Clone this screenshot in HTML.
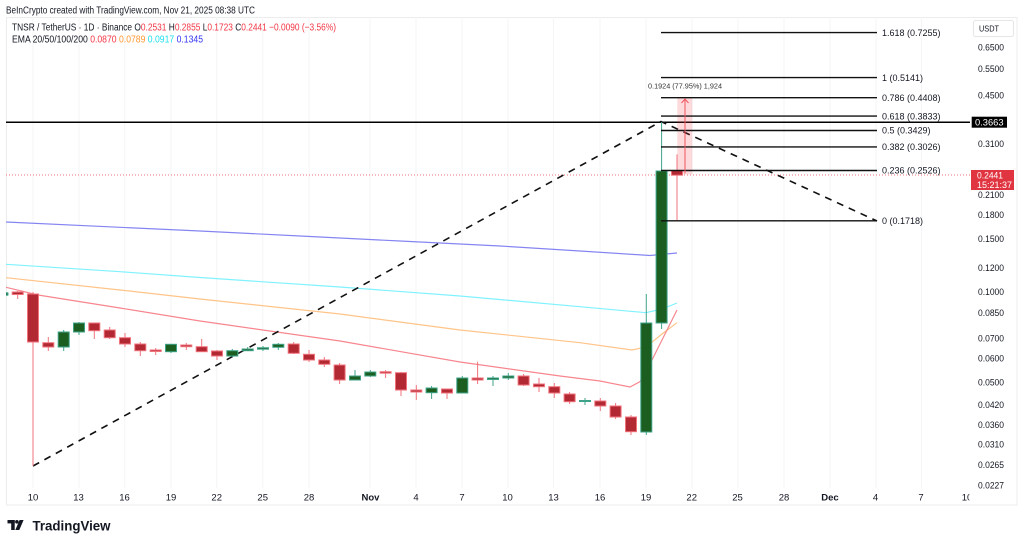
<!DOCTYPE html>
<html><head><meta charset="utf-8">
<style>
html,body{margin:0;padding:0;background:#fff;}
svg{display:block;font-family:"Liberation Sans",sans-serif;}
</style></head>
<body>
<svg width="1024" height="545" viewBox="0 0 1024 545" xmlns="http://www.w3.org/2000/svg">
<defs>
<clipPath id="plot"><rect x="6" y="17" width="964" height="488"/></clipPath>
</defs>
<rect x="0" y="0" width="1024" height="545" fill="#fff"/>
<!-- frame -->
<rect x="6.5" y="17.5" width="1010.5" height="487.5" fill="none" stroke="#ececec" stroke-width="1"/>

<!-- vertical grid -->
<g stroke="#f5f5f7" stroke-width="1">
<line x1="33" y1="17" x2="33" y2="488"/><line x1="79" y1="17" x2="79" y2="488"/><line x1="124.7" y1="17" x2="124.7" y2="488"/>
<line x1="171" y1="17" x2="171" y2="488"/><line x1="216.7" y1="17" x2="216.7" y2="488"/><line x1="262.7" y1="17" x2="262.7" y2="488"/>
<line x1="309" y1="17" x2="309" y2="488"/><line x1="370" y1="17" x2="370" y2="488"/><line x1="416" y1="17" x2="416" y2="488"/>
<line x1="462" y1="17" x2="462" y2="488"/><line x1="508" y1="17" x2="508" y2="488"/><line x1="553.5" y1="17" x2="553.5" y2="488"/>
<line x1="600" y1="17" x2="600" y2="488"/><line x1="646" y1="17" x2="646" y2="488"/><line x1="692" y1="17" x2="692" y2="488"/>
<line x1="738" y1="17" x2="738" y2="488"/><line x1="784" y1="17" x2="784" y2="488"/><line x1="830" y1="17" x2="830" y2="488"/>
<line x1="876" y1="17" x2="876" y2="488"/><line x1="921.5" y1="17" x2="921.5" y2="488"/>
</g>

<!-- header -->
<text x="6" y="13.5" font-size="10" fill="#131722" textLength="249" lengthAdjust="spacingAndGlyphs">BeInCrypto created with TradingView.com, Nov 21, 2025 08:38 UTC</text>
<text x="12" y="30.5" font-size="10" fill="#131722" textLength="324" lengthAdjust="spacingAndGlyphs">TNSR / TetherUS · 1D · Binance  <tspan>O</tspan><tspan fill="#f23645">0.2531</tspan>  <tspan>H</tspan><tspan fill="#f23645">0.2855</tspan>  <tspan>L</tspan><tspan fill="#f23645">0.1723</tspan>  <tspan>C</tspan><tspan fill="#f23645">0.2441  −0.0090 (−3.56%)</tspan></text>
<text x="12" y="42.5" font-size="10" fill="#131722" textLength="191" lengthAdjust="spacingAndGlyphs">EMA 20/50/100/200  <tspan fill="#f23645">0.0870</tspan>  <tspan fill="#ff9830">0.0789</tspan>  <tspan fill="#1fe0ef">0.0917</tspan>  <tspan fill="#3535f5">0.1345</tspan></text>

<g clip-path="url(#plot)">
<!-- EMAs -->
<polyline fill="none" stroke="#8585f2" stroke-width="1.2" points="6,222 120,227.3 200,231 300,236 400,241 500,246 580,251 650,255.5 677,253"/>
<polyline fill="none" stroke="#80f2ff" stroke-width="1.2" points="6,264.3 120,271.7 200,277.5 340,287 460,296 580,306.7 646,312.7 662,309 677,303"/>
<polyline fill="none" stroke="#ffc488" stroke-width="1.2" points="6,277.7 120,290 200,299 340,314 460,330 580,342.7 632,350 646,347 662,334 677,322.7"/>
<polyline fill="none" stroke="#f7868e" stroke-width="1.2" points="6,287.3 38,295 120,308 200,321 340,341 460,362 560,376 600,381 630,387 640,381.7 652,360 667,330 677,310"/>

<!-- horizontal line 0.3663 -->
<line x1="6" y1="122.3" x2="972" y2="122.3" stroke="#000" stroke-width="1.5"/>
<!-- price dotted line -->
<line x1="6" y1="175" x2="970" y2="175" stroke="#f0707a" stroke-width="1" stroke-dasharray="1,2"/>

<!-- dashed fib path -->
<polyline fill="none" stroke="#111" stroke-width="1.6" stroke-dasharray="7,6" points="33,466 661,121.5 877,221"/>

<!-- measurement -->
<rect x="677.3" y="97.7" width="15" height="76.6" fill="#f23645" fill-opacity="0.18"/>

<!-- wicks -->
<g stroke-width="1">
<g stroke="#3fa38a">
<line x1="7" y1="292" x2="7" y2="296"/>
<line x1="63.7" y1="330" x2="63.7" y2="351"/>
<line x1="79" y1="322" x2="79" y2="335"/>
<line x1="171" y1="344" x2="171" y2="353"/>
<line x1="232.3" y1="349" x2="232.3" y2="357"/>
<line x1="247.7" y1="347" x2="247.7" y2="351"/>
<line x1="263" y1="346" x2="263" y2="351"/>
<line x1="278.3" y1="343" x2="278.3" y2="350"/>
<line x1="355" y1="370" x2="355" y2="380"/>
<line x1="370.3" y1="370" x2="370.3" y2="377"/>
<line x1="431.6" y1="386" x2="431.6" y2="399"/>
<line x1="462.3" y1="376" x2="462.3" y2="393"/>
<line x1="493" y1="376" x2="493" y2="386"/>
<line x1="508.3" y1="373" x2="508.3" y2="380"/>
<line x1="585" y1="398" x2="585" y2="405"/>
<line x1="646.3" y1="294" x2="646.3" y2="435"/>
<line x1="661.6" y1="122" x2="661.6" y2="329"/>
</g>
<g stroke="#f0737c">
<line x1="17.7" y1="291" x2="17.7" y2="299"/>
<line x1="33" y1="292" x2="33" y2="466"/>
<line x1="48.3" y1="337" x2="48.3" y2="351"/>
<line x1="94.3" y1="323" x2="94.3" y2="339"/>
<line x1="109.7" y1="327" x2="109.7" y2="339"/>
<line x1="125" y1="333" x2="125" y2="347"/>
<line x1="140.3" y1="342" x2="140.3" y2="356"/>
<line x1="155.7" y1="348" x2="155.7" y2="355"/>
<line x1="186.3" y1="343" x2="186.3" y2="350"/>
<line x1="201.7" y1="339" x2="201.7" y2="352"/>
<line x1="217" y1="350" x2="217" y2="360"/>
<line x1="293.7" y1="342" x2="293.7" y2="354"/>
<line x1="309" y1="350" x2="309" y2="362"/>
<line x1="324.3" y1="357" x2="324.3" y2="367"/>
<line x1="339.6" y1="363" x2="339.6" y2="384"/>
<line x1="385.6" y1="370" x2="385.6" y2="378"/>
<line x1="401" y1="372" x2="401" y2="396"/>
<line x1="416.3" y1="385" x2="416.3" y2="400"/>
<line x1="447" y1="389" x2="447" y2="399"/>
<line x1="477.6" y1="361.7" x2="477.6" y2="384"/>
<line x1="523.6" y1="374" x2="523.6" y2="386"/>
<line x1="539" y1="378" x2="539" y2="392"/>
<line x1="554.3" y1="383" x2="554.3" y2="398"/>
<line x1="569.6" y1="392" x2="569.6" y2="404"/>
<line x1="600.3" y1="398" x2="600.3" y2="411"/>
<line x1="615.6" y1="403" x2="615.6" y2="419"/>
<line x1="631" y1="415" x2="631" y2="435"/>
<line x1="677" y1="154.4" x2="677" y2="220.4"/>
</g>
</g>

<!-- bodies -->
<g fill="#1b5e20" stroke="#3fa38a" stroke-width="1">
<rect x="4" y="293" width="4" height="2"/>
<rect x="58.2" y="332" width="11" height="15"/>
<rect x="73.5" y="323" width="11" height="9"/>
<rect x="165.5" y="344.3" width="11" height="7.4"/>
<rect x="226.8" y="350.7" width="11" height="5.3"/>
<rect x="242.2" y="349" width="11" height="1.7"/>
<rect x="257.5" y="347.7" width="11" height="1.5"/>
<rect x="272.8" y="344.3" width="11" height="3"/>
<rect x="349.5" y="376" width="11" height="4"/>
<rect x="364.8" y="372" width="11" height="4"/>
<rect x="426.1" y="388" width="11" height="4.7"/>
<rect x="456.8" y="378" width="11" height="15"/>
<rect x="487.5" y="378" width="11" height="1.5"/>
<rect x="502.8" y="376" width="11" height="2"/>
<rect x="579.5" y="400.5" width="11" height="1"/>
<rect x="640.8" y="323" width="11" height="109"/>
<rect x="656.1" y="171" width="11" height="152"/>
</g>
<g fill="#b22833" stroke="#f0737c" stroke-width="1">
<rect x="12.2" y="292" width="11" height="2.5"/>
<rect x="27.5" y="294" width="11" height="48"/>
<rect x="42.8" y="342.7" width="11" height="4.3"/>
<rect x="88.8" y="323" width="11" height="7.7"/>
<rect x="104.2" y="330" width="11" height="7.7"/>
<rect x="119.5" y="337.7" width="11" height="6.3"/>
<rect x="134.8" y="344" width="11" height="6.7"/>
<rect x="150.2" y="350" width="11" height="1.5"/>
<rect x="180.8" y="345" width="11" height="1.7"/>
<rect x="196.2" y="346.7" width="11" height="5"/>
<rect x="211.5" y="351" width="11" height="5"/>
<rect x="288.2" y="344" width="11" height="9.3"/>
<rect x="303.5" y="354.3" width="11" height="5.7"/>
<rect x="318.8" y="360" width="11" height="4.3"/>
<rect x="334.1" y="365" width="11" height="15"/>
<rect x="380.1" y="371.7" width="11" height="1.5"/>
<rect x="395.5" y="372.7" width="11" height="17.3"/>
<rect x="410.8" y="390" width="11" height="2"/>
<rect x="441.5" y="389" width="11" height="4"/>
<rect x="472.1" y="378" width="11" height="2"/>
<rect x="518.1" y="376" width="11" height="9"/>
<rect x="533.5" y="384" width="11" height="2.7"/>
<rect x="548.8" y="386.7" width="11" height="6.3"/>
<rect x="564.1" y="394" width="11" height="7.7"/>
<rect x="594.8" y="401" width="11" height="5"/>
<rect x="610.1" y="406" width="11" height="11"/>
<rect x="625.5" y="417" width="11" height="14.7"/>
<rect x="671.5" y="170.5" width="11" height="4.7"/>
</g>

<!-- fib lines -->
<g stroke="#111" stroke-width="1.4">
<line x1="661" y1="32.6" x2="877" y2="32.6"/>
<line x1="661" y1="77.6" x2="877" y2="77.6"/>
<line x1="661" y1="97.7" x2="877" y2="97.7"/>
<line x1="661" y1="116.1" x2="877" y2="116.1"/>
<line x1="661" y1="130.5" x2="877" y2="130.5"/>
<line x1="661" y1="146.9" x2="877" y2="146.9"/>
<line x1="661" y1="170.5" x2="877" y2="170.5"/>
<line x1="661" y1="220.8" x2="877" y2="220.8"/>
</g>
<!-- measure arrow -->
<line x1="685" y1="173.5" x2="685" y2="99" stroke="#f2545f" stroke-width="1"/>
<polyline points="681.5,103 685,99 688.5,103" fill="none" stroke="#f2545f" stroke-width="1"/>
</g>

<text x="685" y="88.3" font-size="7.5" fill="#333" text-anchor="middle" textLength="74" lengthAdjust="spacingAndGlyphs">0.1924 (77.95%) 1,924</text>

<!-- fib labels -->
<g font-size="9" fill="#131722">
<text x="882" y="35.8">1.618 (0.7255)</text>
<text x="882" y="80.8">1 (0.5141)</text>
<text x="882" y="100.9">0.786 (0.4408)</text>
<text x="882" y="119.3">0.618 (0.3833)</text>
<text x="882" y="133.7">0.5 (0.3429)</text>
<text x="882" y="150.1">0.382 (0.3026)</text>
<text x="882" y="173.7">0.236 (0.2526)</text>
<text x="882" y="224">0 (0.1718)</text>
</g>

<!-- price axis -->
<rect x="973.5" y="20.5" width="40" height="16" fill="#fff" stroke="#e6e6e6" rx="2"/>
<text x="979" y="31.5" font-size="8.5" fill="#131722" textLength="20" lengthAdjust="spacingAndGlyphs">USDT</text>
<g font-size="9.5" fill="#131722">
<text x="978" y="50.3" textLength="26" lengthAdjust="spacingAndGlyphs">0.6500</text>
<text x="978" y="72.1" textLength="26" lengthAdjust="spacingAndGlyphs">0.5500</text>
<text x="978" y="98.3" textLength="26" lengthAdjust="spacingAndGlyphs">0.4500</text>
<text x="978" y="147" textLength="26" lengthAdjust="spacingAndGlyphs">0.3100</text>
<text x="978" y="197.9" textLength="26" lengthAdjust="spacingAndGlyphs">0.2100</text>
<text x="978" y="218" textLength="26" lengthAdjust="spacingAndGlyphs">0.1800</text>
<text x="978" y="241.8" textLength="26" lengthAdjust="spacingAndGlyphs">0.1500</text>
<text x="978" y="270.9" textLength="26" lengthAdjust="spacingAndGlyphs">0.1200</text>
<text x="978" y="294.8" textLength="26" lengthAdjust="spacingAndGlyphs">0.1000</text>
<text x="978" y="316" textLength="26" lengthAdjust="spacingAndGlyphs">0.0850</text>
<text x="978" y="341.3" textLength="26" lengthAdjust="spacingAndGlyphs">0.0700</text>
<text x="978" y="361.5" textLength="26" lengthAdjust="spacingAndGlyphs">0.0600</text>
<text x="978" y="385.3" textLength="26" lengthAdjust="spacingAndGlyphs">0.0500</text>
<text x="978" y="408" textLength="26" lengthAdjust="spacingAndGlyphs">0.0420</text>
<text x="978" y="428.1" textLength="26" lengthAdjust="spacingAndGlyphs">0.0360</text>
<text x="978" y="447.7" textLength="26" lengthAdjust="spacingAndGlyphs">0.0310</text>
<text x="978" y="468.2" textLength="26" lengthAdjust="spacingAndGlyphs">0.0265</text>
<text x="978" y="488.3" textLength="26" lengthAdjust="spacingAndGlyphs">0.0227</text>
</g>
<!-- black label -->
<rect x="971.7" y="116.7" width="35.3" height="11" fill="#000"/>
<text x="975" y="125.6" font-size="9.5" fill="#fff" textLength="28.5" lengthAdjust="spacingAndGlyphs">0.3663</text>
<!-- red label -->
<rect x="971" y="170" width="43" height="20" fill="#e03541"/>
<text x="977" y="178.3" font-size="9" fill="#fff" textLength="26" lengthAdjust="spacingAndGlyphs">0.2441</text>
<text x="977" y="187.8" font-size="9" fill="#fff" textLength="35" lengthAdjust="spacingAndGlyphs">15:21:37</text>

<!-- time axis -->
<g font-size="9.5" fill="#131722" text-anchor="middle">
<text x="33" y="500.5">10</text>
<text x="78.5" y="500.5">13</text>
<text x="124.5" y="500.5">16</text>
<text x="171" y="500.5">19</text>
<text x="216.7" y="500.5">22</text>
<text x="262.7" y="500.5">25</text>
<text x="309" y="500.5">28</text>
<text x="370.5" y="500.5" font-weight="bold">Nov</text>
<text x="416" y="500.5">4</text>
<text x="462" y="500.5">7</text>
<text x="507.5" y="500.5">10</text>
<text x="553.5" y="500.5">13</text>
<text x="600" y="500.5">16</text>
<text x="646" y="500.5">19</text>
<text x="691.7" y="500.5">22</text>
<text x="737.5" y="500.5">25</text>
<text x="784" y="500.5">28</text>
<text x="830" y="500.5" font-weight="bold">Dec</text>
<text x="875.5" y="500.5">4</text>
<text x="921" y="500.5">7</text>
</g>
<svg x="0" y="480" width="969.5" height="30" overflow="hidden"><text x="967" y="20.5" font-size="9.5" fill="#131722" text-anchor="middle" font-family="Liberation Sans, sans-serif">10</text></svg>

<!-- TradingView logo -->
<g fill="#131722">
<rect x="7.5" y="520" width="7.2" height="3.4"/>
<rect x="11.2" y="520" width="3.5" height="10"/>
<circle cx="16.9" cy="521.8" r="1.8"/>
<polygon points="19.6,520 23.6,520 19.3,530 15.3,530"/>
</g>
<text x="32.5" y="530.5" font-size="14" font-weight="bold" fill="#131722" textLength="78" lengthAdjust="spacingAndGlyphs">TradingView</text>
</svg>
</body></html>
